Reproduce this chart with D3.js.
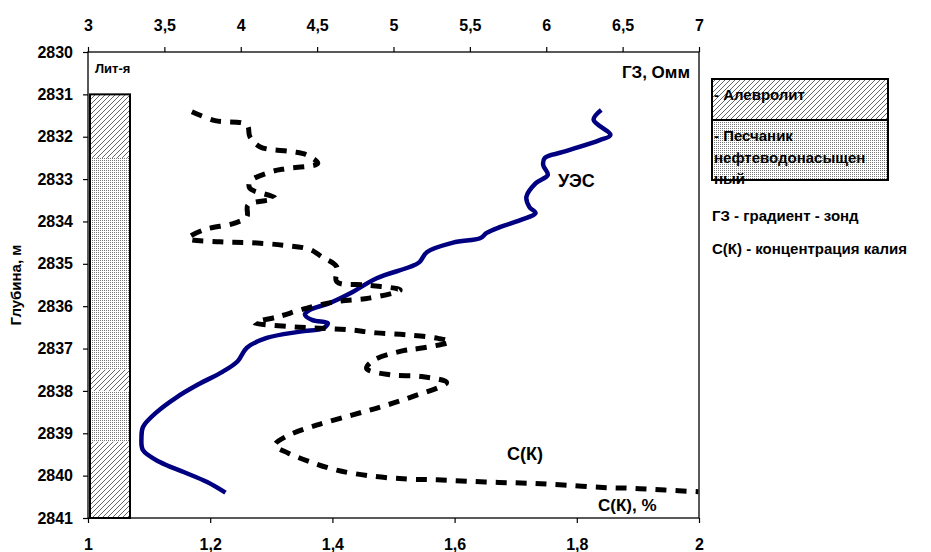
<!DOCTYPE html>
<html>
<head>
<meta charset="utf-8">
<script src="https://cdn.jsdelivr.net/npm/d3@7"></script>
<style>
  body { margin: 0; background: #fff; }
  svg text { font-family: "Liberation Sans", Arial, sans-serif; font-weight: bold; fill: #000; }
</style>
</head>
<body>
<svg></svg>
<script>
// axes ticks
var depthTicks = [2830, 2831, 2832, 2833, 2834, 2835, 2836, 2837, 2838, 2839, 2840, 2841];
var resTicks = [3, 3.5, 4, 4.5, 5, 5.5, 6, 6.5, 7];
var kTicks = [1, 1.2, 1.4, 1.6, 1.8, 2];

// УЭС (ГЗ), Омм
var uesDepth = [2831.37, 2831.6, 2831.96, 2832.08, 2832.36, 2832.5, 2832.67, 2832.9, 2833.1, 2833.42,
  2833.66, 2833.8, 2833.97, 2834.13, 2834.27, 2834.39, 2834.5, 2834.72, 2834.96, 2835.07,
  2835.34, 2835.69, 2835.93, 2836.09, 2836.2, 2836.33, 2836.4, 2836.52, 2836.6, 2836.75,
  2836.98, 2837.3, 2837.55, 2837.85, 2838.15, 2838.5, 2838.85, 2839.1, 2839.4, 2839.68,
  2839.92, 2840.15, 2840.4];
var uesValue = [6.36, 6.31, 6.42, 6.35, 6.11, 5.99, 5.98, 6.01, 5.93, 5.87,
  5.89, 5.93, 5.83, 5.70, 5.61, 5.57, 5.39, 5.22, 5.17, 5.11,
  4.89, 4.72, 4.58, 4.45, 4.42, 4.47, 4.57, 4.54, 4.39, 4.17,
  4.04, 3.98, 3.88, 3.72, 3.58, 3.45, 3.36, 3.35, 3.36, 3.47,
  3.63, 3.78, 3.9];

// C(K), %
var ckDepth = [2831.41, 2831.62, 2831.72, 2832.0, 2832.24, 2832.35, 2832.43, 2832.63, 2832.75, 2832.83,
  2833.06, 2833.22, 2833.45, 2833.61, 2833.89, 2834.04, 2834.2, 2834.4, 2834.48, 2834.5,
  2834.56, 2834.66, 2834.83, 2835.07, 2835.42, 2835.5, 2835.62, 2835.81, 2835.89, 2836.05,
  2836.25, 2836.39, 2836.48, 2836.52, 2836.56, 2836.63, 2836.68, 2836.76, 2836.84, 2837.0,
  2837.05, 2837.27, 2837.47, 2837.62, 2837.66, 2837.8, 2838.14, 2838.37, 2838.57, 2838.81,
  2839.07, 2839.28, 2839.47, 2839.67, 2839.87, 2840.01, 2840.08, 2840.1, 2840.13, 2840.16,
  2840.18, 2840.22, 2840.28, 2840.3, 2840.34, 2840.38];
var ckValue = [1.17, 1.208, 1.26, 1.265, 1.282, 1.333, 1.358, 1.376, 1.325, 1.299,
  1.265, 1.265, 1.306, 1.262, 1.26, 1.24, 1.189, 1.164, 1.216, 1.265,
  1.319, 1.363, 1.382, 1.407, 1.407, 1.456, 1.511, 1.46, 1.407, 1.357,
  1.311, 1.273, 1.328, 1.379, 1.429, 1.472, 1.524, 1.573, 1.592, 1.541,
  1.516, 1.468, 1.456, 1.494, 1.546, 1.587, 1.53, 1.481, 1.432, 1.374,
  1.325, 1.306, 1.328, 1.363, 1.407, 1.464, 1.522, 1.571, 1.62, 1.672,
  1.723, 1.778, 1.843, 1.893, 1.944, 1.999];

// литология
var lithTop = [2831, 2832.5, 2837.5, 2838, 2839.2];
var lithBottom = [2832.5, 2837.5, 2838, 2839.2, 2841];
var lithType = ["alev", "sand", "alev", "sand", "alev"];

var screen = {width: 931, height: 552};
var plot = {left: 88, right: 699, top: 52, bottom: 518};

var svg = d3.select("svg")
  .attr("width", screen.width)
  .attr("height", screen.height);

var defs = svg.append("defs");
var hatch = defs.append("pattern")
  .attr("id", "alev")
  .attr("patternUnits", "userSpaceOnUse")
  .attr("width", 5).attr("height", 5);
hatch.append("rect").attr("width", 5).attr("height", 5).attr("fill", "#fff");
hatch.append("path")
  .attr("d", "M-1,1 l2,-2 M0,5 l5,-5 M4,6 l2,-2")
  .attr("stroke", "#555").attr("stroke-width", 0.9);

var dots = defs.append("pattern")
  .attr("id", "sand")
  .attr("patternUnits", "userSpaceOnUse")
  .attr("width", 2).attr("height", 2);
dots.append("rect").attr("width", 2).attr("height", 2).attr("fill", "#fff");
dots.append("rect").attr("width", 1).attr("height", 1).attr("fill", "#777");

defs.append("clipPath").attr("id", "clip")
  .append("rect")
  .attr("x", plot.left).attr("y", plot.top)
  .attr("width", plot.right - plot.left).attr("height", plot.bottom - plot.top);

var yScale = d3.scaleLinear().domain([2830, 2841]).range([plot.top, plot.bottom]);
var xRes = d3.scaleLinear().domain([3, 7]).range([plot.left, plot.right]);
var xK = d3.scaleLinear().domain([1, 2]).range([plot.left, plot.right]);

var comma = function(d) { return String(d).replace(".", ","); };

// frame
svg.append("rect")
  .attr("x", plot.left).attr("y", plot.top)
  .attr("width", plot.right - plot.left).attr("height", plot.bottom - plot.top)
  .attr("fill", "none").attr("stroke", "#000").attr("stroke-width", 1.3);

var yAxis = svg.append("g")
  .attr("transform", "translate(" + plot.left + ",0)")
  .call(d3.axisLeft(yScale).tickValues(depthTicks).tickSize(5).tickPadding(10).tickFormat(d3.format("d")));
var topAxis = svg.append("g")
  .attr("transform", "translate(0," + plot.top + ")")
  .call(d3.axisTop(xRes).tickValues(resTicks).tickSize(5).tickPadding(16).tickFormat(comma));
var botAxis = svg.append("g")
  .attr("transform", "translate(0," + plot.bottom + ")")
  .call(d3.axisBottom(xK).tickValues(kTicks).tickSize(5).tickPadding(16).tickFormat(comma));

[yAxis, topAxis, botAxis].forEach(function(a) {
  a.select(".domain").remove();
  a.selectAll("line").attr("stroke", "#000").attr("stroke-width", 1.2);
  a.selectAll("text")
    .attr("font-family", "Liberation Sans, Arial, sans-serif")
    .attr("font-weight", "bold")
    .attr("font-size", 16)
    .attr("fill", "#000");
});

svg.append("text")
  .attr("transform", "translate(16," + ((plot.top + plot.bottom) / 2) + ") rotate(-90)")
  .attr("text-anchor", "middle")
  .attr("dy", "0.35em")
  .attr("font-size", 15)
  .text("Глубина, м");

// lithology column
var lith = lithTop.map(function(t, i) { return {top: t, bottom: lithBottom[i], type: lithType[i]}; });
svg.append("g").selectAll("rect")
  .data(lith)
  .enter()
  .append("rect")
  .attr("x", 90)
  .attr("width", 40)
  .attr("y", function(d) { return yScale(d.top); })
  .attr("height", function(d) { return yScale(d.bottom) - yScale(d.top); })
  .attr("fill", function(d) { return "url(#" + d.type + ")"; });
svg.append("rect")
  .attr("x", 90).attr("width", 40)
  .attr("y", yScale(2831)).attr("height", yScale(2841) - yScale(2831))
  .attr("fill", "none").attr("stroke", "#000").attr("stroke-width", 2);

svg.append("text").attr("x", 95).attr("y", 73).attr("font-size", 13).text("Лит-я");

// curves
var g = svg.append("g").attr("clip-path", "url(#clip)");

var uesLine = d3.line()
  .x(function(d, i) { return xRes(uesValue[i]); })
  .y(function(d) { return yScale(d); })
  .curve(d3.curveCatmullRom);
g.append("path")
  .datum(uesDepth)
  .attr("d", uesLine)
  .attr("fill", "none")
  .attr("stroke", "#000080")
  .attr("stroke-width", 4.5)
  .attr("stroke-linejoin", "round");

var ckLine = d3.line()
  .x(function(d, i) { return xK(ckValue[i]); })
  .y(function(d) { return yScale(d); })
  .curve(d3.curveCatmullRom);
g.append("path")
  .datum(ckDepth)
  .attr("d", ckLine)
  .attr("fill", "none")
  .attr("stroke", "#000")
  .attr("stroke-width", 5)
  .attr("stroke-dasharray", "11,9");

// curve labels
svg.append("text").attr("x", 690).attr("y", 78).attr("text-anchor", "end").attr("font-size", 17).text("ГЗ, Омм");
svg.append("text").attr("x", 558).attr("y", 187).attr("font-size", 18).text("УЭС");
svg.append("text").attr("x", 507).attr("y", 460).attr("font-size", 18).text("С(К)");
svg.append("text").attr("x", 598).attr("y", 511).attr("font-size", 17).text("С(К), %");

// legend
svg.append("rect").attr("x", 712).attr("y", 79).attr("width", 176).attr("height", 41)
  .attr("fill", "url(#alev)").attr("stroke", "#000").attr("stroke-width", 2);
svg.append("rect").attr("x", 712).attr("y", 120).attr("width", 176).attr("height", 60)
  .attr("fill", "url(#sand)").attr("stroke", "#000").attr("stroke-width", 2);
var legendText = ["- Алевролит", "- Песчаник", "нефтеводонасыщен", "ный"];
var legendY = [100, 141, 163, 184];
svg.append("g").selectAll("text")
  .data(legendText)
  .enter()
  .append("text")
  .attr("x", 714)
  .attr("y", function(d, i) { return legendY[i]; })
  .attr("font-size", 15)
  .text(function(d) { return d; });
svg.append("text").attr("x", 712).attr("y", 221).attr("font-size", 15).text("ГЗ - градиент - зонд");
svg.append("text").attr("x", 712).attr("y", 254).attr("font-size", 15).text("С(К) - концентрация калия");
</script>
</body>
</html>
